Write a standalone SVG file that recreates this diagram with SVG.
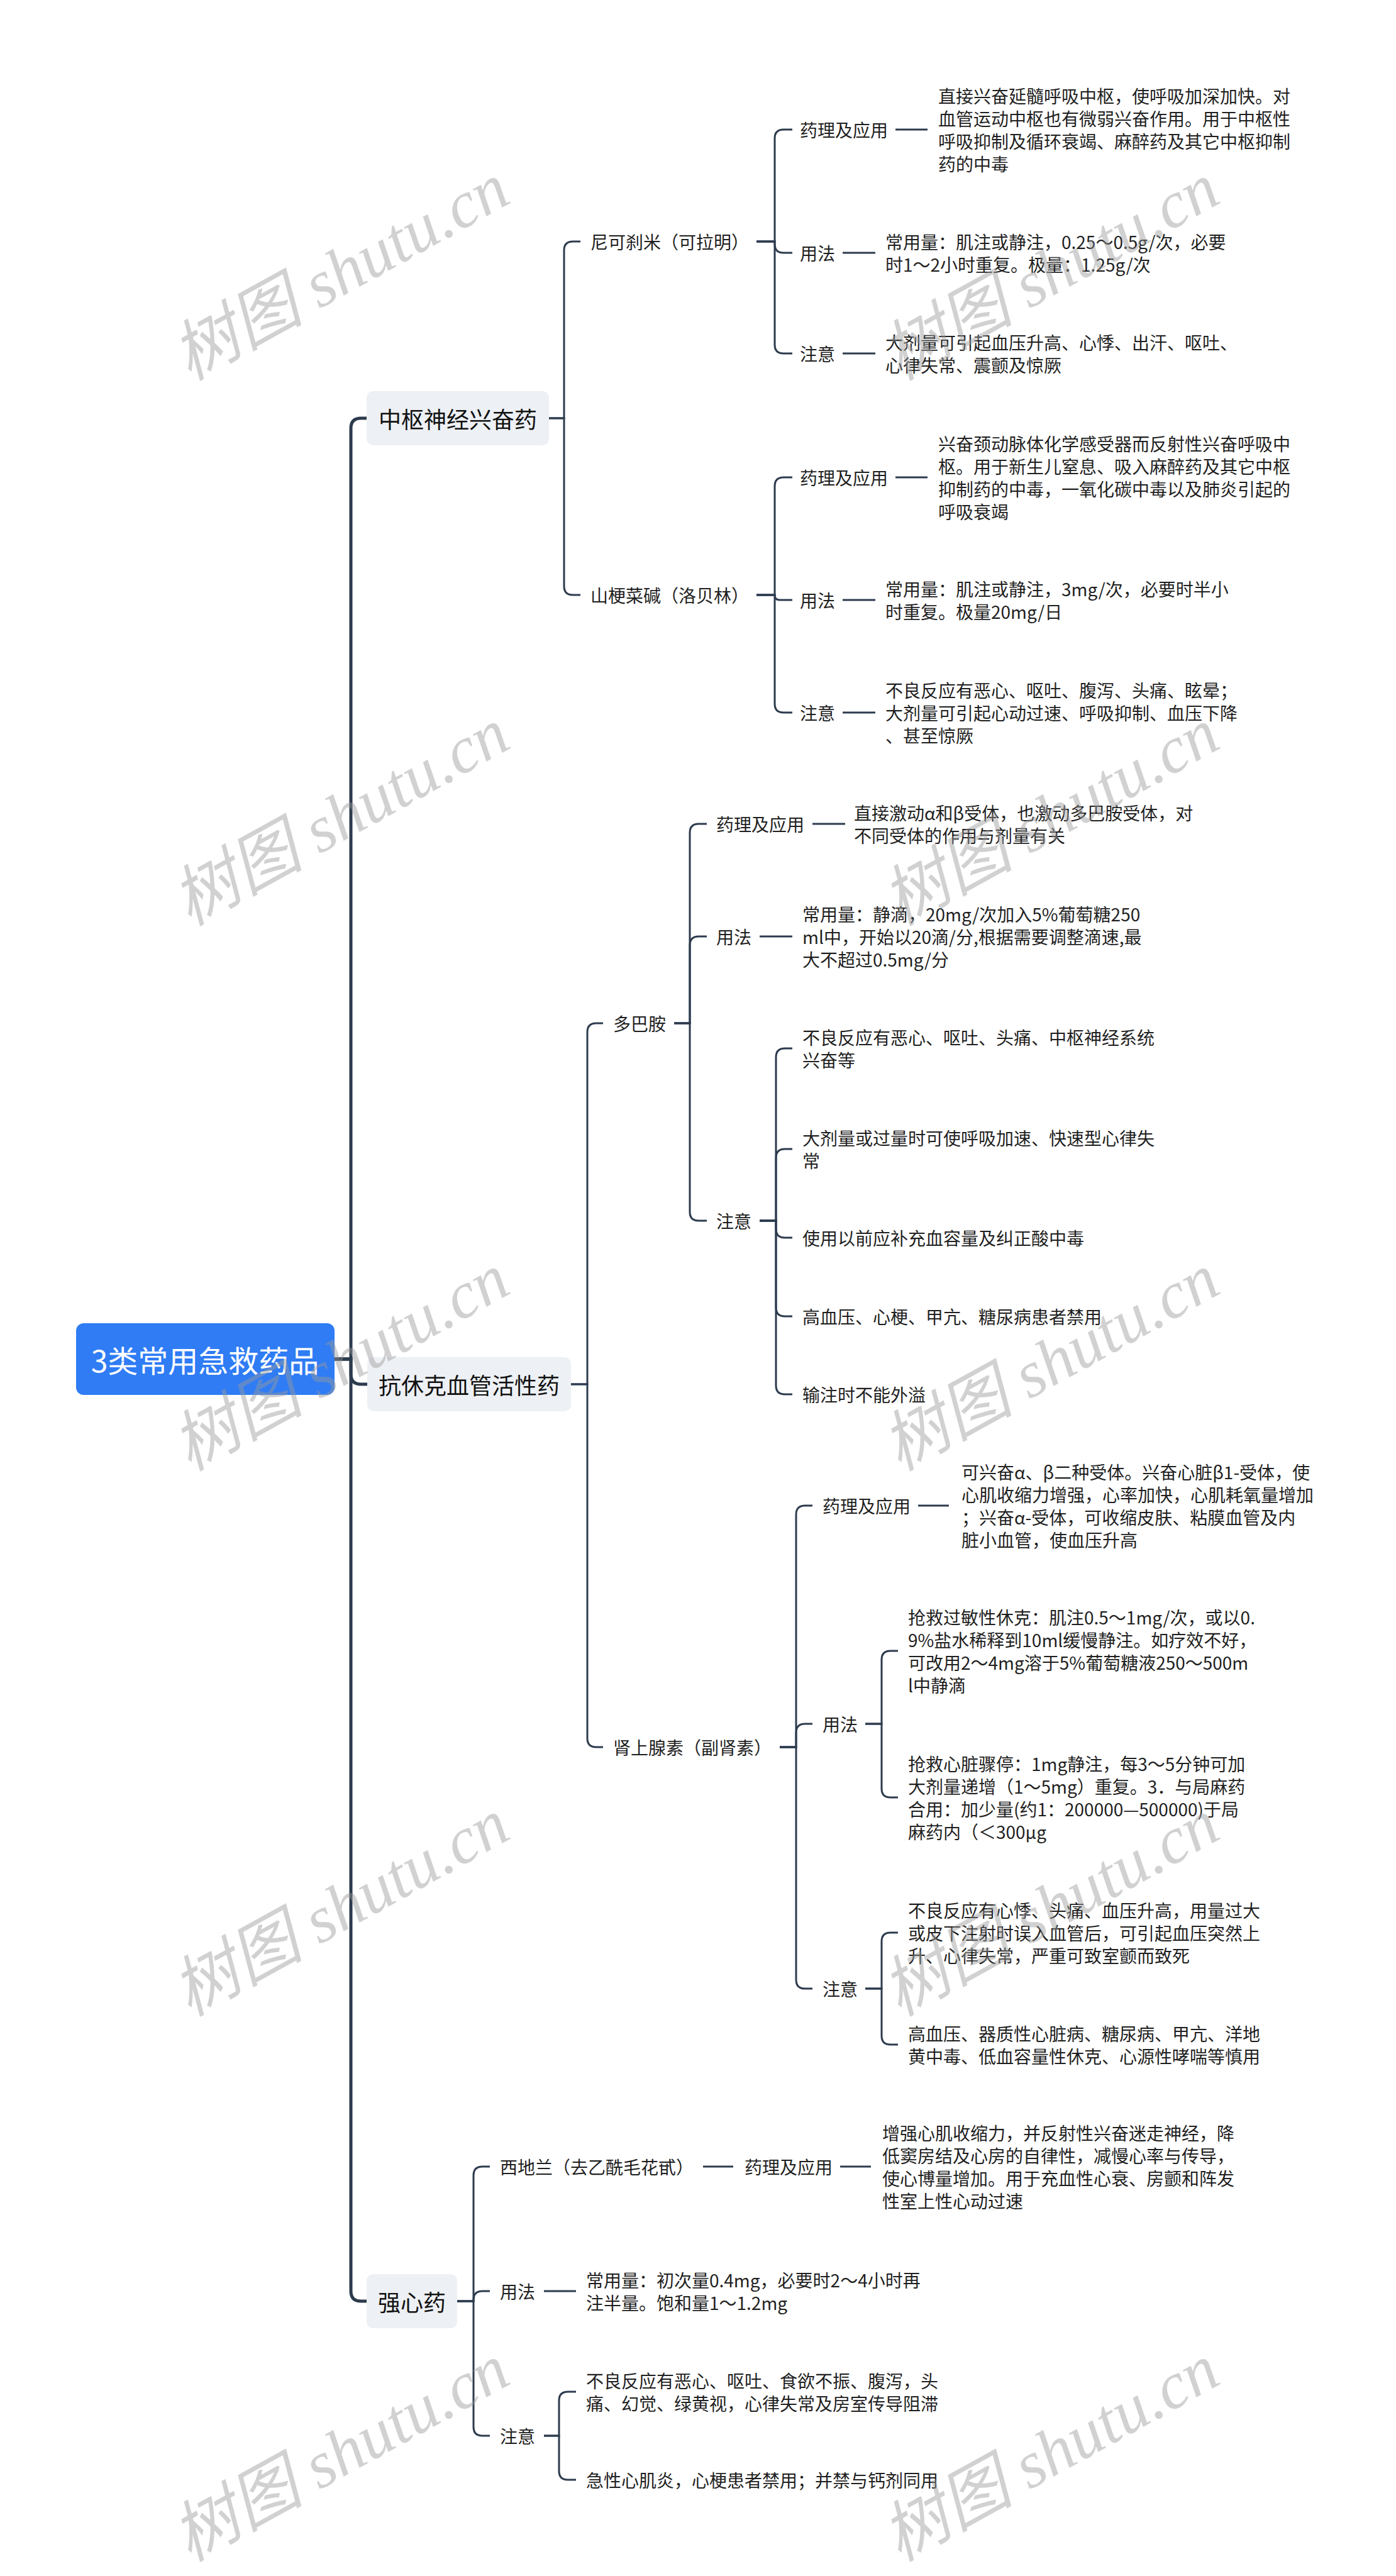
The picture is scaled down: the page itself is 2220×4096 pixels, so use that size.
<svg xmlns="http://www.w3.org/2000/svg" width="2220" height="4096" viewBox="0 0 2220 4096">
<style>
.t{font-family:"Noto Sans CJK SC","Noto Sans",sans-serif;font-size:28px;fill:#1f1f1f;dominant-baseline:central}
.l1{font-size:36px;fill:#111;text-anchor:middle}
.root{font-size:48px;fill:#fff;text-anchor:middle}
.c{fill:none;stroke:#2d3b4e;stroke-width:3}
.c0{stroke-width:5}
.box1{fill:#edf0f4}
.wm{font-family:"Liberation Serif","Noto Sans CJK SC",serif;font-style:italic;font-size:105px;fill:#9a9a9a;fill-opacity:0.45}
</style>
<rect width="2220" height="4096" fill="#fff"/>
<g id="connectors">
<path class="c c0" d="M532 2161 H558 V681 Q558 665 574 665 H583"/>
<path class="c c0" d="M532 2161 H558 V2185 Q558 2201 574 2201 H584"/>
<path class="c c0" d="M532 2161 H558 V3643 Q558 3659 574 3659 H583"/>
<path class="c" d="M873 665 H897 V398 Q897 384 911 384 H923"/>
<path class="c" d="M873 665 H897 V932 Q897 946 911 946 H923"/>
<path class="c" d="M908 2201 H934 V1641 Q934 1627 948 1627 H959"/>
<path class="c" d="M908 2201 H934 V2764 Q934 2778 948 2778 H959"/>
<path class="c" d="M727 3659 H753 V3459 Q753 3445 767 3445 H779"/>
<path class="c" d="M727 3659 H753 V3657 Q753 3643 767 3643 H779"/>
<path class="c" d="M727 3659 H753 V3859 Q753 3873 767 3873 H779"/>
<path class="c" d="M1203 384 H1232 V220 Q1232 206 1246 206 H1260"/>
<path class="c" d="M1203 384 H1232 V388 Q1232 402 1246 402 H1260"/>
<path class="c" d="M1203 384 H1232 V548 Q1232 562 1246 562 H1260"/>
<path class="c" d="M1424 206 H1475 M1340 402 H1392 M1340 562 H1392"/>
<path class="c" d="M1203 946 H1232 V773 Q1232 759 1246 759 H1260"/>
<path class="c" d="M1203 946 H1232 Q1232 954 1240 954 H1260"/>
<path class="c" d="M1203 946 H1232 V1119 Q1232 1133 1246 1133 H1260"/>
<path class="c" d="M1424 759 H1475 M1340 954 H1392 M1340 1133 H1392"/>
<path class="c" d="M1072 1627 H1097 V1324 Q1097 1310 1111 1310 H1124"/>
<path class="c" d="M1072 1627 H1097 V1503 Q1097 1489 1111 1489 H1124"/>
<path class="c" d="M1072 1627 H1097 V1927 Q1097 1941 1111 1941 H1124"/>
<path class="c" d="M1292 1310 H1344 M1208 1489 H1260"/>
<path class="c" d="M1208 1941 H1234 V1681 Q1234 1667 1248 1667 H1260"/>
<path class="c" d="M1208 1941 H1234 V1841 Q1234 1827 1248 1827 H1260"/>
<path class="c" d="M1208 1941 H1234 V1954 Q1234 1968 1248 1968 H1260"/>
<path class="c" d="M1208 1941 H1234 V2079 Q1234 2093 1248 2093 H1260"/>
<path class="c" d="M1208 1941 H1234 V2203 Q1234 2217 1248 2217 H1260"/>
<path class="c" d="M1240 2778 H1266 V2408 Q1266 2394 1280 2394 H1292"/>
<path class="c" d="M1240 2778 H1266 V2755 Q1266 2741 1280 2741 H1292"/>
<path class="c" d="M1240 2778 H1266 V3148 Q1266 3162 1280 3162 H1292"/>
<path class="c" d="M1460 2394 H1509"/>
<path class="c" d="M1376 2741 H1402 V2639 Q1402 2625 1416 2625 H1428"/>
<path class="c" d="M1376 2741 H1402 V2844 Q1402 2858 1416 2858 H1428"/>
<path class="c" d="M1376 3162 H1402 V3087 Q1402 3073 1416 3073 H1428"/>
<path class="c" d="M1376 3162 H1402 V3237 Q1402 3251 1416 3251 H1428"/>
<path class="c" d="M1118 3445 H1166 M1336 3445 H1385 M865 3643 H916"/>
<path class="c" d="M865 3873 H889 V3817 Q889 3803 903 3803 H916"/>
<path class="c" d="M865 3873 H889 V3929 Q889 3943 903 3943 H916"/>
</g>
<g id="root"><rect x="121" y="2104" width="411" height="114" rx="12" fill="#2f7cf5"/><text class="t root" x="326" y="2161">3类常用急救药品</text></g>
<g id="n-zhongshu"><rect class="box1" x="583" y="622" width="290" height="86" rx="10"/><text class="t l1" x="728" y="665">中枢神经兴奋药</text></g>
<g id="n-kangxiuke"><rect class="box1" x="584" y="2158" width="324" height="86" rx="10"/><text class="t l1" x="746" y="2201">抗休克血管活性药</text></g>
<g id="n-qiangxin"><rect class="box1" x="583" y="3616" width="144" height="86" rx="10"/><text class="t l1" x="655" y="3659">强心药</text></g>

<g id="n-nike"><text class="t" x="939" y="384">尼可刹米（可拉明）</text></g>
<g id="n-nike-yl"><text class="t" x="1272" y="206">药理及应用</text></g>
<g id="n-nike-yl-d"><text class="t" x="1492" y="152"><tspan x="1492" y="152">直接兴奋延髓呼吸中枢，使呼吸加深加快。对</tspan><tspan x="1492" y="188">血管运动中枢也有微弱兴奋作用。用于中枢性</tspan><tspan x="1492" y="224">呼吸抑制及循环衰竭、麻醉药及其它中枢抑制</tspan><tspan x="1492" y="260">药的中毒</tspan></text></g>
<g id="n-nike-yf"><text class="t" x="1272" y="402">用法</text></g>
<g id="n-nike-yf-d"><text class="t"><tspan x="1408" y="384">常用量：肌注或静注，0.25～0.5g/次，必要</tspan><tspan x="1408" y="420">时1～2小时重复。极量：1.25g/次</tspan></text></g>
<g id="n-nike-zy"><text class="t" x="1272" y="562">注意</text></g>
<g id="n-nike-zy-d"><text class="t"><tspan x="1408" y="544">大剂量可引起血压升高、心悸、出汗、呕吐、</tspan><tspan x="1408" y="580">心律失常、震颤及惊厥</tspan></text></g>

<g id="n-shangeng"><text class="t" x="939" y="946">山梗菜碱（洛贝林）</text></g>
<g id="n-sg-yl"><text class="t" x="1272" y="759">药理及应用</text></g>
<g id="n-sg-yl-d"><text class="t"><tspan x="1492" y="705">兴奋颈动脉体化学感受器而反射性兴奋呼吸中</tspan><tspan x="1492" y="741">枢。用于新生儿窒息、吸入麻醉药及其它中枢</tspan><tspan x="1492" y="777">抑制药的中毒，一氧化碳中毒以及肺炎引起的</tspan><tspan x="1492" y="813">呼吸衰竭</tspan></text></g>
<g id="n-sg-yf"><text class="t" x="1272" y="954">用法</text></g>
<g id="n-sg-yf-d"><text class="t"><tspan x="1408" y="936">常用量：肌注或静注，3mg/次，必要时半小</tspan><tspan x="1408" y="972">时重复。极量20mg/日</tspan></text></g>
<g id="n-sg-zy"><text class="t" x="1272" y="1133">注意</text></g>
<g id="n-sg-zy-d"><text class="t"><tspan x="1408" y="1097">不良反应有恶心、呕吐、腹泻、头痛、眩晕；</tspan><tspan x="1408" y="1133">大剂量可引起心动过速、呼吸抑制、血压下降</tspan><tspan x="1408" y="1169">、甚至惊厥</tspan></text></g>

<g id="n-dba"><text class="t" x="975" y="1627">多巴胺</text></g>
<g id="n-dba-yl"><text class="t" x="1139" y="1310">药理及应用</text></g>
<g id="n-dba-yl-d"><text class="t"><tspan x="1358" y="1292">直接激动α和β受体，也激动多巴胺受体，对</tspan><tspan x="1358" y="1328">不同受体的作用与剂量有关</tspan></text></g>
<g id="n-dba-yf"><text class="t" x="1139" y="1489">用法</text></g>
<g id="n-dba-yf-d"><text class="t"><tspan x="1276" y="1453">常用量：静滴，20mg/次加入5%葡萄糖250</tspan><tspan x="1276" y="1489">ml中，开始以20滴/分,根据需要调整滴速,最</tspan><tspan x="1276" y="1525">大不超过0.5mg/分</tspan></text></g>
<g id="n-dba-zy"><text class="t" x="1139" y="1941">注意</text></g>
<g id="n-dba-zy-1"><text class="t"><tspan x="1276" y="1649">不良反应有恶心、呕吐、头痛、中枢神经系统</tspan><tspan x="1276" y="1685">兴奋等</tspan></text></g>
<g id="n-dba-zy-2"><text class="t"><tspan x="1276" y="1809">大剂量或过量时可使呼吸加速、快速型心律失</tspan><tspan x="1276" y="1845">常</tspan></text></g>
<g id="n-dba-zy-3"><text class="t" x="1276" y="1968">使用以前应补充血容量及纠正酸中毒</text></g>
<g id="n-dba-zy-4"><text class="t" x="1276" y="2093">高血压、心梗、甲亢、糖尿病患者禁用</text></g>
<g id="n-dba-zy-5"><text class="t" x="1276" y="2217">输注时不能外溢</text></g>

<g id="n-ssxs"><text class="t" x="975" y="2778">肾上腺素（副肾素）</text></g>
<g id="n-ss-yl"><text class="t" x="1308" y="2394">药理及应用</text></g>
<g id="n-ss-yl-d"><text class="t"><tspan x="1529" y="2340">可兴奋α、β二种受体。兴奋心脏β1-受体，使</tspan><tspan x="1529" y="2376">心肌收缩力增强，心率加快，心肌耗氧量增加</tspan><tspan x="1529" y="2412">；兴奋α-受体，可收缩皮肤、粘膜血管及内</tspan><tspan x="1529" y="2448">脏小血管，使血压升高</tspan></text></g>
<g id="n-ss-yf"><text class="t" x="1308" y="2741">用法</text></g>
<g id="n-ss-yf-1"><text class="t"><tspan x="1444" y="2571">抢救过敏性休克：肌注0.5～1mg/次，或以0.</tspan><tspan x="1444" y="2607">9%盐水稀释到10ml缓慢静注。如疗效不好，</tspan><tspan x="1444" y="2643">可改用2～4mg溶于5%葡萄糖液250～500m</tspan><tspan x="1444" y="2679">l中静滴</tspan></text></g>
<g id="n-ss-yf-2"><text class="t"><tspan x="1444" y="2804">抢救心脏骤停：1mg静注，每3～5分钟可加</tspan><tspan x="1444" y="2840">大剂量递增（1～5mg）重复。3．与局麻药</tspan><tspan x="1444" y="2876">合用：加少量(约1：200000—500000)于局</tspan><tspan x="1444" y="2912">麻药内（＜300μg</tspan></text></g>
<g id="n-ss-zy"><text class="t" x="1308" y="3162">注意</text></g>
<g id="n-ss-zy-1"><text class="t"><tspan x="1444" y="3037">不良反应有心悸、头痛、血压升高，用量过大</tspan><tspan x="1444" y="3073">或皮下注射时误入血管后，可引起血压突然上</tspan><tspan x="1444" y="3109">升、心律失常，严重可致室颤而致死</tspan></text></g>
<g id="n-ss-zy-2"><text class="t"><tspan x="1444" y="3233">高血压、器质性心脏病、糖尿病、甲亢、洋地</tspan><tspan x="1444" y="3269">黄中毒、低血容量性休克、心源性哮喘等慎用</tspan></text></g>

<g id="n-xdl"><text class="t" x="795" y="3445">西地兰（去乙酰毛花甙）</text></g>
<g id="n-xdl-yl"><text class="t" x="1184" y="3445">药理及应用</text></g>
<g id="n-xdl-yl-d"><text class="t"><tspan x="1403" y="3391">增强心肌收缩力，并反射性兴奋迷走神经，降</tspan><tspan x="1403" y="3427">低窦房结及心房的自律性，减慢心率与传导，</tspan><tspan x="1403" y="3463">使心博量增加。用于充血性心衰、房颤和阵发</tspan><tspan x="1403" y="3499">性室上性心动过速</tspan></text></g>
<g id="n-qx-yf"><text class="t" x="795" y="3643">用法</text></g>
<g id="n-qx-yf-d"><text class="t"><tspan x="932" y="3625">常用量：初次量0.4mg，必要时2～4小时再</tspan><tspan x="932" y="3661">注半量。饱和量1～1.2mg</tspan></text></g>
<g id="n-qx-zy"><text class="t" x="795" y="3873">注意</text></g>
<g id="n-qx-zy-1"><text class="t"><tspan x="932" y="3785">不良反应有恶心、呕吐、食欲不振、腹泻，头</tspan><tspan x="932" y="3821">痛、幻觉、绿黄视，心律失常及房室传导阻滞</tspan></text></g>
<g id="n-qx-zy-2"><text class="t" x="932" y="3943">急性心肌炎，心梗患者禁用；并禁与钙剂同用</text></g>

<g id="watermarks">
<text class="wm" transform="translate(301 606) rotate(-29)">树图 shutu.cn</text>
<text class="wm" transform="translate(1430 606) rotate(-29)">树图 shutu.cn</text>
<text class="wm" transform="translate(301 1473) rotate(-29)">树图 shutu.cn</text>
<text class="wm" transform="translate(1430 1473) rotate(-29)">树图 shutu.cn</text>
<text class="wm" transform="translate(301 2340) rotate(-29)">树图 shutu.cn</text>
<text class="wm" transform="translate(1430 2340) rotate(-29)">树图 shutu.cn</text>
<text class="wm" transform="translate(301 3207) rotate(-29)">树图 shutu.cn</text>
<text class="wm" transform="translate(1430 3207) rotate(-29)">树图 shutu.cn</text>
<text class="wm" transform="translate(301 4074) rotate(-29)">树图 shutu.cn</text>
<text class="wm" transform="translate(1430 4074) rotate(-29)">树图 shutu.cn</text>
</g>
</svg>
